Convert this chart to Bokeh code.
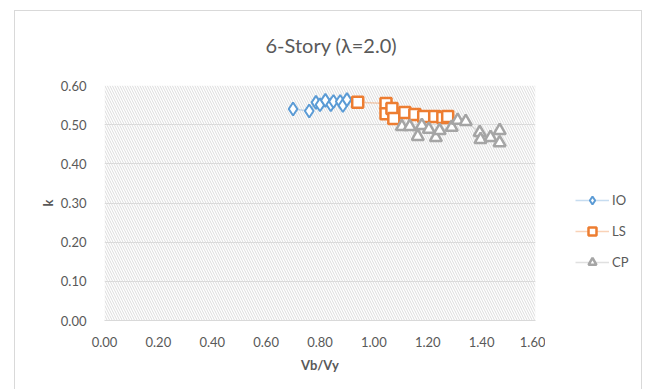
from bokeh.plotting import figure
from bokeh.layouts import row
from bokeh.models import (FixedTicker, NumeralTickFormatter, Legend, LegendItem,
                          BoxAnnotation, InlineStyleSheet)
from bokeh.embed import file_html
from bokeh.resources import INLINE

# Performance points: base shear ratio Vb/Vy against k, per performance level
io_x = [0.70, 0.76, 0.785, 0.80, 0.82, 0.84, 0.85, 0.875, 0.885, 0.90]
io_k = [0.54, 0.535, 0.557, 0.551, 0.562, 0.551, 0.559, 0.559, 0.549, 0.564]

ls_x = [0.94, 1.045, 1.045, 1.067, 1.074, 1.115, 1.152, 1.185, 1.226, 1.256, 1.274]
ls_k = [0.557, 0.554, 0.528, 0.541, 0.516, 0.531, 0.526, 0.521, 0.521, 0.518, 0.521]

cp_x = [1.104, 1.133, 1.163, 1.178, 1.204, 1.23, 1.244, 1.289, 1.311, 1.341,
        1.393, 1.396, 1.433, 1.467, 1.467]
cp_k = [0.495, 0.495, 0.47, 0.498, 0.488, 0.467, 0.485, 0.493, 0.511, 0.508,
        0.48, 0.462, 0.467, 0.485, 0.454]

x_ticks = [0.0, 0.2, 0.4, 0.6, 0.8, 1.0, 1.2, 1.4, 1.6]
y_ticks = [0.0, 0.1, 0.2, 0.3, 0.4, 0.5, 0.6]

FONT = "Lato"
TXT = "#595959"
GRID = "#d9d9d9"

series = [
    ("IO", io_x, io_k, "#5b9bd5", "diamond", 13, 2),
    ("LS", ls_x, ls_k, "#ed7d31", "square", 11, 2.5),
    ("CP", cp_x, cp_k, "#a5a5a5", "triangle", 12, 2.5),
]

# ---- main plot ----
p = figure(width=545, height=389, x_range=(0, 1.6), y_range=(0, 0.6),
           output_backend="svg", toolbar_location=None,
           min_border_left=104, min_border_right=10,
           min_border_top=85, min_border_bottom=69)
p.outline_line_color = None
p.background_fill_color = "white"
p.border_fill_color = "white"

p.title.text = "6-Story (λ=2.0)"
p.title.align = "left"
p.title.text_font = FONT
p.title.text_font_size = "20px"
p.title.text_font_style = "normal"
p.title.text_color = TXT
p.title.offset = 161
p.title.standoff = 58

# hatched plot area
p.add_layout(BoxAnnotation(fill_alpha=0, line_color=None,
                           hatch_pattern="left_diagonal_line", hatch_color="#dcdcdc",
                           hatch_scale=5, hatch_weight=1, level="underlay"))

p.xgrid.visible = False
p.ygrid.ticker = FixedTicker(ticks=y_ticks)
p.ygrid.grid_line_color = GRID
p.ygrid.grid_line_width = 1

for ax in (p.xaxis[0], p.yaxis[0]):
    ax.major_tick_line_color = None
    ax.minor_tick_line_color = None
    ax.major_label_text_font = FONT
    ax.major_label_text_font_size = "13px"
    ax.major_label_text_color = TXT
    ax.axis_label_text_font = FONT
    ax.axis_label_text_font_size = "13px"
    ax.axis_label_text_font_style = "bold"
    ax.axis_label_text_color = TXT
    ax.formatter = NumeralTickFormatter(format="0.00")

p.xaxis.ticker = FixedTicker(ticks=x_ticks)
p.yaxis.ticker = FixedTicker(ticks=y_ticks)
p.xaxis.axis_line_color = GRID
p.yaxis.axis_line_color = None
p.xaxis.major_label_standoff = 10
p.yaxis.major_label_standoff = 12
p.xaxis.axis_label = "Vb/Vy"
p.yaxis.axis_label = "k"
p.xaxis.axis_label_standoff = 7
p.yaxis.axis_label_standoff = 2

for name, xs, ks, color, marker, size, lw in series:
    p.line(xs, ks, line_color=color, line_alpha=0.35, line_width=1.5)
    p.scatter(xs, ks, marker=marker, size=size, line_color=color,
              line_width=lw, fill_color="white")

# ---- legend strip on the right ----
q = figure(width=108, height=389, x_range=(0, 1), y_range=(0, 1),
           output_backend="svg", toolbar_location=None,
           min_border=0, outline_line_color=None)
q.axis.visible = False
q.grid.visible = False
q.border_fill_color = "white"

# sample glyphs for the key sit outside the strip's visible range
items = []
for name, xs, ks, color, marker, size, lw in series:
    ln = q.line([5, 6], [5, 6], line_color=color, line_alpha=0.35, line_width=1.5)
    sc = q.scatter([5], [5], marker=marker, size=size - 2, line_color=color,
                   line_width=lw, fill_color="white")
    items.append(LegendItem(label=name, renderers=[ln, sc]))

legend = Legend(items=items, location=(30, 48), orientation="vertical",
                glyph_width=34, glyph_height=20, label_height=20, spacing=11,
                label_standoff=3, padding=0, margin=0,
                border_line_color=None, background_fill_alpha=0,
                label_text_font=FONT, label_text_font_size="13px",
                label_text_color=TXT)
q.add_layout(legend, "center")

layout = row(p, q, spacing=0)
layout.stylesheets = [InlineStyleSheet(css="""
:host { position: relative; }
:host::after {
  content: ""; position: absolute; left: 14px; top: 10px;
  width: 628px; height: 420px; border: 1px solid #d9d9d9;
  pointer-events: none; box-sizing: border-box;
}
""")]

open("out.html", "w").write(file_html(layout, INLINE))
